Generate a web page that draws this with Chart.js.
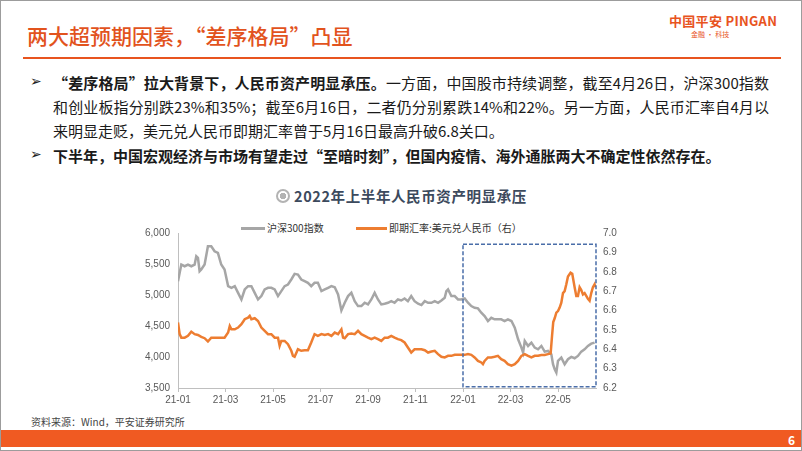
<!DOCTYPE html>
<html>
<head>
<meta charset="utf-8">
<script src="https://cdn.jsdelivr.net/npm/chart.js@4.4.1/dist/chart.umd.min.js"></script>
<style>
html, body { margin: 0; padding: 0; background: #fff; }
#page {
    position: relative; width: 800px; height: 449px; border: 1px solid #9c9c9c;
    overflow: hidden; font-family: "Noto Sans CJK SC", "Liberation Sans", sans-serif; color: #1a1a1a;
}
.abs { position: absolute; white-space: nowrap; }
#title { left: 26px; top: 20px; font-size: 21px; line-height: 28px; color: #e2531d; font-weight: 500; }
#logo { left: 668px; top: 10px; font-size: 13px; font-weight: 700; color: #e8541f; letter-spacing: 0.3px; }
#logo-sub { left: 690px; top: 28px; font-size: 7px; color: #e8541f; }
#rule { left: 22px; top: 56px; width: 758px; height: 2px; background: #e8541f; }
.bullet { position: absolute; left: 29px; font-family: "DejaVu Sans", sans-serif; font-size: 14px; color: #222; }
.line { position: absolute; left: 52px; width: 716px; font-size: 15px; line-height: 20px; white-space: nowrap; }
.just { text-align: justify; text-align-last: justify; white-space: normal; }
b { font-weight: 700; }
#chart-title { left: 275px; top: 185px; font-size: 14.5px; font-weight: 700; color: #3c4a5d; line-height: 20px; letter-spacing: 0.6px; }
#chart-title .icon {
    display: inline-block; width: 10px; height: 10px; border-radius: 50%;
    border: 2px solid #b3b3b3; vertical-align: -1px; margin-right: 4px;
    background: radial-gradient(circle, #b3b3b3 0 3px, #fff 3.5px);
}
.legend { top: 220px; font-size: 10px; color: #333; line-height: 14px; }
.swatch { position: absolute; height: 3px; }
#source { left: 30px; top: 413px; font-size: 10px; color: #444; }
#footer { left: 0; top: 429px; width: 800px; height: 17px; background: #f05a22; }
#page-no { left: 787px; top: 430px; font-size: 12px; font-weight: 700; color: #fff; }
#chart-box { position: absolute; left: 120px; top: 212px; width: 520px; height: 200px; }
</style>
</head>
<body>
<div id="page">
    <div id="title" class="abs">两大超预期因素，“差序格局”凸显</div>
    <div id="logo" class="abs">中国平安 PINGAN</div>
    <div id="logo-sub" class="abs">金融 · 科技</div>
    <div id="rule" class="abs"></div>

    <div class="bullet" style="top:72px">➢</div>
    <div class="line just" style="top:72px"><b>“差序格局”拉大背景下，人民币资产明显承压。</b>一方面，中国股市持续调整，截至4月26日，沪深300指数</div>
    <div class="line just" style="top:96px">和创业板指分别跌23%和35%；截至6月16日，二者仍分别累跌14%和22%。另一方面，人民币汇率自4月以</div>
    <div class="line" style="top:120px">来明显走贬，美元兑人民币即期汇率曾于5月16日最高升破6.8关口。</div>
    <div class="bullet" style="top:145px">➢</div>
    <div class="line" style="top:145px"><b>下半年，中国宏观经济与市场有望走过“至暗时刻”，但国内疫情、海外通胀两大不确定性依然存在。</b></div>

    <div id="chart-title" class="abs"><span class="icon"></span>2022年上半年人民币资产明显承压</div>

    <div class="swatch" style="left:240px; top:226px; width:24px; background:#a6a6a6"></div>
    <div class="abs legend" style="left:266px">沪深300指数</div>
    <div class="swatch" style="left:355px; top:226px; width:31px; background:#ed7d31"></div>
    <div class="abs legend" style="left:388px">即期汇率:美元兑人民币（右）</div>

    <div id="chart-box"><canvas id="chart" width="520" height="200"></canvas></div>

    <div id="source" class="abs">资料来源：Wind，平安证券研究所</div>
    <div id="footer" class="abs"></div>
    <div id="page-no" class="abs">6</div>
</div>

<script>
// x values are months since Jan 2021 (0 = 21-01)
const xTickLabels = ['21-01', '21-03', '21-05', '21-07', '21-09', '21-11', '22-01', '22-03', '22-05'];

const csiMonths = [0, 0.14, 0.28, 0.42, 0.56, 0.70, 0.77, 0.84, 0.91, 0.98, 1.12, 1.26, 1.40, 1.54, 1.68, 1.82, 1.96,
    2.11, 2.25, 2.39, 2.53, 2.67, 2.81, 2.95, 3.09, 3.23, 3.37, 3.51, 3.65, 3.79, 3.93, 4.07, 4.21, 4.35, 4.49, 4.63,
    4.77, 4.91, 5.05, 5.19, 5.33, 5.47, 5.61, 5.75, 5.89, 6.04, 6.18, 6.32, 6.46, 6.60, 6.74, 6.88, 7.02, 7.16, 7.30,
    7.44, 7.58, 7.72, 7.86, 8.00, 8.14, 8.28, 8.42, 8.56, 8.70, 8.84, 8.98, 9.12, 9.26, 9.40, 9.54, 9.68, 9.82, 9.96,
    10.11, 10.25, 10.39, 10.53, 10.67, 10.81, 10.95, 11.09, 11.23, 11.30, 11.37, 11.51, 11.65, 11.79, 11.93, 12.07,
    12.21, 12.35, 12.49, 12.63, 12.77, 12.91, 13.05, 13.19, 13.33, 13.47, 13.61, 13.75, 13.89, 14.04, 14.18, 14.32,
    14.46, 14.53, 14.60, 14.74, 14.88, 15.02, 15.16, 15.30, 15.44, 15.58, 15.72, 15.79, 15.86, 15.93, 16.00, 16.14,
    16.28, 16.42, 16.56, 16.70, 16.84, 16.98, 17.12, 17.26, 17.40, 17.54];
const csi300 = [5223, 5491, 5464, 5491, 5464, 5491, 5625, 5598, 5384, 5411, 5491, 5786, 5786, 5705, 5678, 5491, 5411,
    5143, 5116, 5143, 5035, 4928, 5089, 5143, 5143, 5035, 4928, 4982, 5089, 5116, 5116, 5089, 4982, 5062, 5143, 5169,
    5250, 5341, 5330, 5250, 5223, 5196, 5143, 5196, 5196, 5062, 5089, 5116, 5143, 5126, 5009, 4751, 4875, 4982, 5035,
    4901, 4821, 4821, 4875, 4848, 4928, 5035, 4928, 4848, 4859, 4875, 4901, 4875, 4928, 4912, 4944, 4901, 4982, 4901,
    4859, 4837, 4901, 4875, 4875, 4901, 4875, 4912, 4955, 5062, 5089, 4982, 4982, 4928, 4928, 4944,
    4875, 4821, 4794, 4784, 4714, 4660, 4580, 4633, 4607, 4607, 4607, 4580, 4607, 4580, 4473, 4285,
    4151, 4071, 4258, 4178, 4232, 4151, 4124, 4178, 4087, 4098, 4044, 3883, 3803, 3749, 3937, 3990,
    3883, 3964, 4001, 3980, 4017, 4087, 4124, 4178, 4215, 4232];

const fxMonths = [0, 0.07, 0.14, 0.28, 0.42, 0.56, 0.70, 0.84, 0.98, 1.12, 1.26, 1.40, 1.54, 1.68, 1.82, 1.96, 2.11,
    2.18, 2.25, 2.39, 2.53, 2.67, 2.81, 2.95, 3.02, 3.09, 3.23, 3.37, 3.51, 3.65, 3.79, 3.93, 4.07, 4.21, 4.28, 4.35,
    4.49, 4.63, 4.77, 4.84, 4.91, 5.05, 5.19, 5.33, 5.47, 5.61, 5.75, 5.89, 6.04, 6.18, 6.32, 6.46, 6.60, 6.74, 6.88,
    6.95, 7.02, 7.16, 7.30, 7.44, 7.58, 7.72, 7.86, 8.00, 8.14, 8.28, 8.42, 8.56, 8.70, 8.84, 8.98, 9.12, 9.26, 9.40,
    9.54, 9.68, 9.82, 9.96, 10.11, 10.25, 10.39, 10.53, 10.67, 10.81, 10.95, 11.09, 11.23, 11.37, 11.51, 11.65, 11.79,
    11.93, 12.07, 12.21, 12.35, 12.49, 12.63, 12.77, 12.84, 12.91, 13.05, 13.19, 13.33, 13.47, 13.61, 13.75, 13.89,
    14.04, 14.18, 14.32, 14.46, 14.60, 14.74, 14.88, 15.02, 15.16, 15.30, 15.44, 15.58, 15.69, 15.75, 15.80, 15.86,
    15.93, 16.00, 16.07, 16.14, 16.21, 16.28, 16.35, 16.42, 16.53, 16.60, 16.70, 16.77, 16.84, 16.91, 16.98, 17.05,
    17.12, 17.19, 17.26, 17.33, 17.40, 17.47, 17.54, 17.57];
const usdCny = [6.538, 6.478, 6.460, 6.460, 6.469, 6.491, 6.478, 6.474, 6.464, 6.457, 6.440, 6.460, 6.460, 6.460,
    6.460, 6.460, 6.486, 6.520, 6.503, 6.503, 6.512, 6.529, 6.555, 6.563, 6.572, 6.555, 6.560, 6.546, 6.512, 6.495,
    6.478, 6.478, 6.460, 6.460, 6.418, 6.443, 6.443, 6.426, 6.392, 6.366, 6.361, 6.400, 6.392, 6.395, 6.395, 6.435,
    6.478, 6.469, 6.478, 6.474, 6.478, 6.469, 6.486, 6.478, 6.503, 6.460, 6.457, 6.478, 6.481, 6.478, 6.495, 6.478,
    6.469, 6.460, 6.452, 6.460, 6.452, 6.443, 6.460, 6.460, 6.469, 6.460, 6.452, 6.447, 6.435, 6.409, 6.383, 6.400,
    6.400, 6.400, 6.395, 6.383, 6.388, 6.392, 6.375, 6.361, 6.358, 6.366, 6.366, 6.371, 6.371, 6.371, 6.371, 6.375,
    6.371, 6.358, 6.340, 6.332, 6.323, 6.340, 6.358, 6.358, 6.361, 6.366, 6.349, 6.340, 6.323, 6.315, 6.323, 6.340,
    6.366, 6.375, 6.366, 6.358, 6.366, 6.366, 6.370, 6.370, 6.375, 6.378, 6.470, 6.540, 6.560, 6.589, 6.597, 6.615,
    6.640, 6.690, 6.700, 6.735, 6.775, 6.795, 6.790, 6.720, 6.675, 6.675, 6.720, 6.705, 6.683, 6.690, 6.675, 6.660,
    6.650, 6.690, 6.720, 6.735, 6.720];

// dashed highlight box: 22-01 to end of data, in left-axis units
const highlightBox = { fromMonth: 12, toMonth: 17.6, top: 5820, bottom: 3520 };

const axisColor = '#bfbfbf';
const tickColor = '#595959';

const boxPlugin = {
    id: 'highlightBox',
    afterDatasetsDraw(chart) {
        const { ctx, scales: { x, y } } = chart;
        const left = x.getPixelForValue(highlightBox.fromMonth);
        const right = x.getPixelForValue(highlightBox.toMonth);
        const top = y.getPixelForValue(highlightBox.top);
        const bottom = y.getPixelForValue(highlightBox.bottom);
        ctx.save();
        ctx.strokeStyle = '#4a6ea9';
        ctx.lineWidth = 1.5;
        ctx.setLineDash([4, 2]);
        ctx.strokeRect(left, top, right - left, bottom - top);
        ctx.restore();
    }
};

new Chart(document.getElementById('chart').getContext('2d'), {
    type: 'line',
    data: {
        datasets: [{
            label: '沪深300指数',
            data: csiMonths.map((m, i) => ({ x: m, y: csi300[i] })),
            yAxisID: 'y',
            borderColor: '#a6a6a6',
            borderWidth: 2.5,
            pointRadius: 0,
            tension: 0,
            order: 2
        }, {
            label: '即期汇率:美元兑人民币（右）',
            data: fxMonths.map((m, i) => ({ x: m, y: usdCny[i] })),
            yAxisID: 'y1',
            borderColor: '#ed7d31',
            borderWidth: 2.5,
            pointRadius: 0,
            tension: 0,
            order: 1
        }]
    },
    options: {
        responsive: false,
        animation: false,
        devicePixelRatio: 1,
        layout: { padding: { top: 20 } },
        plugins: { legend: { display: false }, tooltip: { enabled: false } },
        scales: {
            x: {
                type: 'linear',
                min: 0,
                max: 17.6,
                afterFit: s => { s.height = 25; },
                grid: { drawOnChartArea: false, color: axisColor, tickLength: 4 },
                border: { color: axisColor },
                ticks: {
                    stepSize: 2,
                    includeBounds: false,
                    autoSkip: false,
                    maxRotation: 0,
                    padding: 2,
                    color: tickColor,
                    font: { family: 'Liberation Sans', size: 10 },
                    callback: v => xTickLabels[v / 2] || ''
                }
            },
            y: {
                position: 'left',
                min: 3500,
                max: 6000,
                afterFit: s => { s.width = 57; },
                grid: { drawOnChartArea: false, drawTicks: false, color: axisColor },
                border: { color: axisColor },
                ticks: {
                    stepSize: 500,
                    padding: 8,
                    color: tickColor,
                    font: { family: 'Liberation Sans', size: 10 },
                    callback: v => v.toLocaleString('en-US')
                }
            },
            y1: {
                position: 'right',
                min: 6.2,
                max: 7.0,
                afterFit: s => { s.width = 45; },
                grid: { display: false, drawTicks: false },
                border: { display: false },
                ticks: {
                    stepSize: 0.1,
                    padding: 7,
                    color: tickColor,
                    font: { family: 'Liberation Sans', size: 10 },
                    callback: v => v.toFixed(1)
                }
            }
        }
    },
    plugins: [boxPlugin]
});
</script>
</body>
</html>
